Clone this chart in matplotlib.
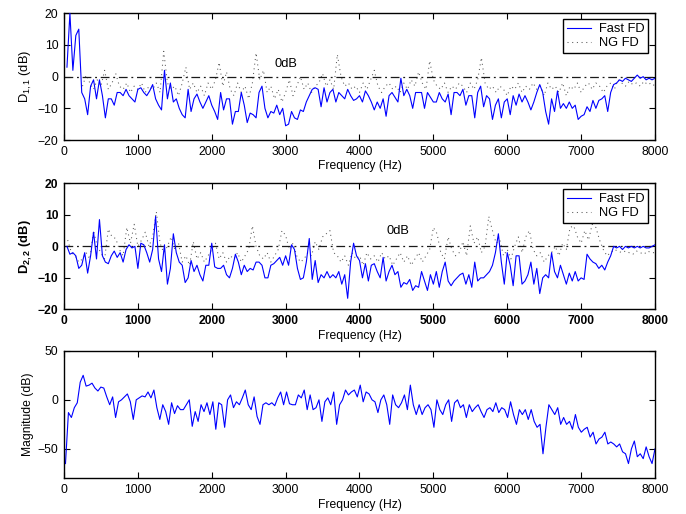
import numpy as np
import matplotlib
matplotlib.use("Agg")
import matplotlib.pyplot as plt

plt.rcParams['font.family'] = ['Liberation Sans', 'DejaVu Sans']
plt.rcParams['mathtext.default'] = 'regular'

# ---------------- data ----------------
d11_fast = [3, 20, 2, 13, 15, -5, -7, -12, -3, -1, -7, -1, -6, -13, -7, -7, -9, -5, -5, -6,
            -4, -6, -7, -8, -4, -3.5, -5, -6, -4.5, -2.5, -7, -9, -10.5, 2, -7, -2, -8, -7, -10, -12,
            -13, -4, -11, -7, -5.5, -8, -10, -8, -6, -9, -11, -13.5, -5, -10.5, -7, -7, -15, -11, -11, -5,
            -9, -14.5, -11.5, -12, -13, -5, -3, -10, -13, -11, -11.5, -9, -12, -10, -15.5, -15, -11, -13, -13.5, -10.5,
            -11, -8, -6, -4, -3.5, -4, -9.5, -3.5, -8, -5, -4, -8, -5, -6, -7, -4, -6, -7.5, -7, -6,
            -8, -4.5, -6, -8, -10.5, -8, -10, -7, -12.5, -6, -5, -6.5, -8, -0.5, -6, -4, -6, -10, -5, -5,
            -5, -10, -5, -6.5, -8, -8, -5, -7, -8, -5.5, -12, -5, -5, -6, -4, -9, -6, -6, -13, -5,
            -3, -9.5, -6, -7, -13.5, -9, -7, -13, -8, -7, -12, -6, -9, -5.5, -8, -6, -8, -10.5, -8, -5,
            -2.5, -5, -11, -15, -7, -11, -4.5, -10, -8.5, -10, -8, -10, -9, -13.5, -12.5, -12, -9.5, -11, -7.5, -10,
            -7.5, -7, -6, -11, -5, -2.5, -2, -1, -1.5, -0.5, -1, -1.5, -0.5, 0.5, -0.5, 0, -1, -0.5, -1, -0.5]

d11_ng = [-3, 0.5, -2, -4, -1, -3, 2, -4, -2, 1, -3, -4, -2, -5, -3, -4, -2, -5, -3, -4,
          -2, -5, 8, -2, -4, -3, -6, -2, 3, -4, -2, -5, -3, -6, -2, -4, -1, 4.5, -3, 1.5,
          -4, -6, -2, -5, -3, -7, -2, 7.5, -1, 2, -5, -3, -7, -4, -8, -5, -1, -6, -3, 0,
          -4, -2, -5, -3, -2, 1, -3, -1, -4, 7, 0, -3, -2, -4, -3, -5, -2, -4, -1, 2,
          -3, -5, -3, -2, -4, -3, -5, -2, -4, -1, -3, 1.5, -2, -4, 5, -1, -3, -4, -2, -5,
          -3, -4, -2, -3, -5, -2, -4, -1, 6, -2, -4, -3, -5, -3, -4, -6, -3, -4, -2, -5,
          -3, -4, -2, -4, -3, -6, -2, -4, -3, -5, -2, -6, -3, -4, -2, -5, -3, -2, -4, -2,
          -3, -5, -3, -2, -4, -1, -2, -3, -1.5, -2.5, -2, -3, -1.5, -2.5, -2, -3]

d22_fast = [0, -2.5, -2, -3, -7, -6, -2, -8.5, -3, 4.5, -4, 8.5, -3, -5, -5.5, -3, -1.5, -3.5, -2, -5,
            -1, 0.5, -0.5, 0, -7, 1, 0.5, -2, -5, -1, 9.5, -4, -8, 0.5, -12, -7, 4, -2, -5, -6,
            -11.5, -10, -4.5, -8, -6, -9, -11, -6, -6, 1, -6.5, -7, -7, -6, -9, -10, -7, -2.5, -5, -9,
            -6, -8, -7, -7.5, -5, -5, -6, -10, -10, -6, -5.5, -4.5, -3.5, -6, -3, -6, 0.5, -1, -7, -10.5,
            -10, -5, 2.5, -10.5, -4.5, -11.5, -9, -10, -8, -10, -9, -10, -8, -12, -9, -16.5, -5, 1, -3, -4.5,
            -10, -5.5, -11, -6, -5.5, -8, -10, -3.5, -11, -8, -6, -9, -8, -13, -11.5, -12, -10.5, -14, -12.5, -13,
            -8, -11, -14, -9, -12, -8, -13, -8, -5, -11, -12.5, -11, -10, -9, -8.5, -12, -9, -13, -5, -11,
            -10, -10, -9, -8, -6, -2, 4, -5, -12, -2, -6, -12.5, -3, -3, -12, -11, -9, -5, -12, -7,
            -15, -10, -9, -10, -2, -8, -10, -6, -9, -12, -8.5, -11, -8, -11, -10, -10.5, -2.5, -4, -5, -5.5,
            -7, -6, -7.5, -5, -3, 0, -0.5, 0, -1, 0, -0.5, 0, -0.5, 0, -0.5, 0, -0.5, -0.5, 0, 0.5]

d22_ng = [2, -2, -3, -5, -4, -2, -4, 5, 0, -2, -4, 5.5, 3, 2.5, -1, -3, 6, 1, 7, 0,
          2, 4.5, 0, 3, 11, 1, -2, 0, 3, -1, 1, -5, -3, -6, 1.5, -4, -2, -5, -3, -1,
          1, -4, -2, -5, -3, -4, -2, -5, -3, -1, 6.5, 0, -3, -4, -2, -5, -3, -1, 5, 3.5,
          -1, 1, -3, -5, -4, -2, -3, 1.5, -1, 3, 4, 5, -2, -3, -5, -3, -6, -2, -4, -3,
          -6, -2, -4, -3, -5, -2, -4, -3, -6, -4, -2, -5, -3, -6, -4, -2, -5, -3, -1, 6,
          4, -2, -4, 3, -1, -3, -2, 1.5, -3, 6.5, 1, 3, -2, 0, 9.5, 5, 1, 2, -3, -1,
          -4, 0, 3, -2, 3, 5, -1, -3, -2, -5, -3, -2, 0, -3, 1, -1, 6, 6.5, 3, 1,
          5, 2, 7, 6, 2, -1, -3, -2, -1, -1.5, -2, -1.5, -2, -2.5, -1.5, -2, -2.5, -1.5, -2, -2]

magnitude = [-65, -13, -18, -8, -3, 18, 25, 14, 15, 17, 12, 9, 13, 12, 3, -5, 3, -18, -2, 0,
             3, 6, -2, -20, 0, 2, 4, 3, 8, 2, 10, -8, -20, -5, -12, -25, -3, -14, -6, -10,
             -10, -5, 0, -27, -12, -22, -5, -12, -3, -15, -2, -30, -3, -5, -28, 0, 5, -8, -2, -5,
             2, 10, -5, -10, 3, -17, -25, -5, -3, -5, -3, -6, 2, 8, -5, 8, -4, -5, -5, 5,
             2, 10, -10, 5, -10, -8, 0, -22, -2, 2, -5, 8, -25, -5, 0, 10, 5, 8, 10, 3,
             15, -2, 8, 6, 0, -2, -13, 0, 5, -5, -25, 5, -5, -8, -3, 5, -10, 15, -5, -15,
             -5, -15, -8, -5, -10, -28, 0, -10, -15, -5, 0, -22, -3, 0, -8, -5, -18, -5, -12, -8,
             -5, -12, -18, -10, -8, -12, -3, -13, -8, -10, -18, -2, -15, -25, -10, -15, -10, -20, -10, -22,
             -28, -25, -55, -28, -5, -10, -15, -8, -25, -18, -25, -22, -30, -15, -28, -33, -30, -28, -38, -33,
             -45, -40, -38, -33, -45, -43, -45, -48, -45, -53, -55, -65, -50, -42, -58, -55, -60, -48, -58, -65, -50]

xticks = [0, 1000, 2000, 3000, 4000, 5000, 6000, 7000, 8000]

f11 = np.linspace(40, 8000, len(d11_fast))
g11 = np.linspace(250, 8000, len(d11_ng))
f22 = np.linspace(40, 8000, len(d22_fast))
g22 = np.linspace(50, 8000, len(d22_ng))
fm = np.linspace(20, 8000, len(magnitude))

FS = 8.7
fig = plt.figure(figsize=(6.86, 5.14), dpi=100)

def style(ax, bold=False):
    ax.set_xlim(0, 8000)
    ax.set_xticks(xticks)
    ax.tick_params(direction='in', top=True, right=True, length=4.5, width=0.8,
                   labelsize=FS, pad=4)
    for s in ax.spines.values():
        s.set_linewidth(1.0)
    if bold:
        for lab in ax.get_xticklabels() + ax.get_yticklabels():
            lab.set_fontweight('bold')
    ax.set_xlabel('Frequency (Hz)', fontsize=FS, labelpad=2)

def dpanel(ax, ff, fast, gg, ng, ylabel, txt_x, txt_y, bold=False):
    ax.plot(ff, fast, color=(0, 0, 1), lw=0.8, zorder=3, label='Fast FD')
    ax.plot(gg, ng, color='0.35', lw=0.75, dashes=(1, 3.5), zorder=2, label='NG FD')
    ax.plot([0, 8000], [0, 0], color='0.1', lw=0.9, dashes=(7, 3, 1.5, 3), zorder=2.5)
    ax.text(txt_x, txt_y, '0dB', fontsize=FS + 0.6, ha='left', va='center')
    ax.set_ylim(-20, 20)
    ax.set_yticks([-20, -10, 0, 10, 20])
    style(ax, bold)
    ax.set_ylabel(ylabel, fontsize=FS + 0.6, labelpad=3,
                  fontweight='bold' if bold else 'normal')
    leg = ax.legend(loc='upper right', bbox_to_anchor=(0.9887, 0.9526), borderaxespad=0,
                    fancybox=False, edgecolor='k', framealpha=1, fontsize=FS + 0.6,
                    handlelength=1.9, handletextpad=0.6, borderpad=0.3, labelspacing=0.15)
    leg.get_frame().set_linewidth(1.0)

ax1 = fig.add_axes([0.0933, 0.7276, 0.8615, 0.2465])
dpanel(ax1, f11, d11_fast, g11, d11_ng, r'$D_{1,1}$ (dB)', 2855, 4)

ax2 = fig.add_axes([0.0933, 0.3982, 0.8615, 0.245])
dpanel(ax2, f22, d22_fast, g22, d22_ng, r'$D_{2,2}$ (dB)', 4370, 4.8, bold=True)

ax3 = fig.add_axes([0.0933, 0.0695, 0.8615, 0.248])
ax3.plot(fm, magnitude, color=(0, 0, 1), lw=0.8)
ax3.set_ylim(-80, 50)
ax3.set_yticks([-50, 0, 50])
style(ax3)
ax3.set_ylabel('Magnitude (dB)', fontsize=FS, labelpad=3)

fig.savefig('out.png', dpi=100)
